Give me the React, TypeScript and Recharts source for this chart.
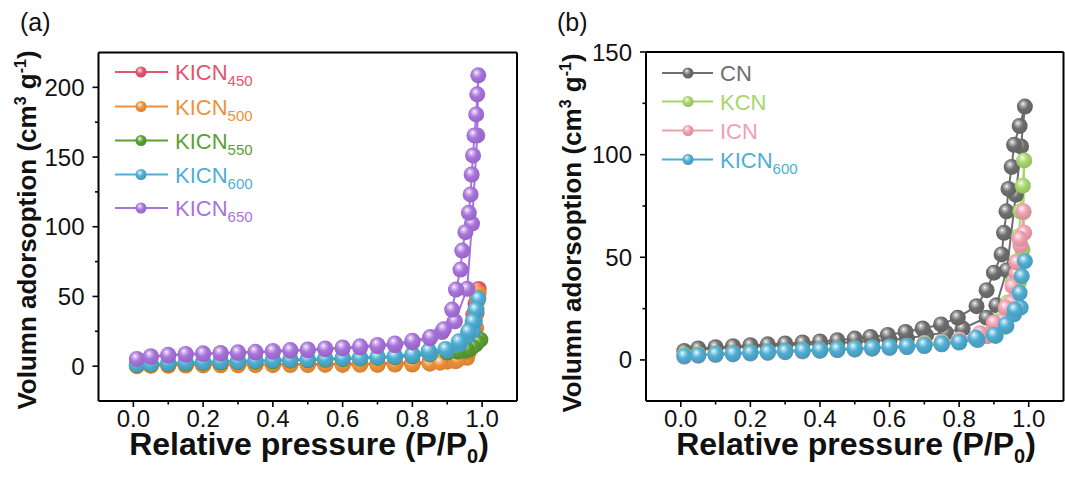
import React from 'react';
import { LineChart, Line, XAxis, YAxis } from 'recharts';

const FONT = '"Liberation Sans", Arial, Helvetica, sans-serif';

type Pt = [number, number];

// ---- panel (a): KICN series, adsorption then desorption branch ----
const kicn450Ads: Pt[] = [
  [0.01, 0.3], [0.05, 0.5], [0.1, 0.7], [0.15, 0.8], [0.2, 0.9], [0.25, 1.0], [0.3, 1.1],
  [0.35, 1.2], [0.4, 1.3], [0.45, 1.4], [0.5, 1.5], [0.55, 1.6], [0.6, 1.7], [0.65, 1.8],
  [0.7, 1.9], [0.75, 2.0], [0.8, 2.2], [0.85, 2.6], [0.9, 3.6], [0.95, 6.8], [0.97, 15],
  [0.978, 27], [0.984, 38], [0.99, 55.4],
];
const kicn450Des: Pt[] = [
  [0.986, 50], [0.981, 45], [0.975, 37], [0.967, 27], [0.955, 15], [0.93, 6], [0.9, 4.2],
  [0.85, 3.0], [0.8, 2.5], [0.75, 2.2], [0.7, 2.0],
];
const kicn500Ads: Pt[] = [
  [0.01, 0.0], [0.05, 0.2], [0.1, 0.3], [0.15, 0.4], [0.2, 0.5], [0.25, 0.6], [0.3, 0.6],
  [0.35, 0.7], [0.4, 0.7], [0.45, 0.8], [0.5, 0.8], [0.55, 0.9], [0.6, 0.9], [0.65, 1.0],
  [0.7, 1.0], [0.75, 1.1], [0.8, 1.2], [0.85, 1.8], [0.9, 3.2], [0.924, 3.5], [0.957, 6.0],
  [0.975, 15], [0.983, 27.4], [0.987, 47], [0.99, 52.5],
];
const kicn500Des: Pt[] = [
  [0.986, 50], [0.982, 38], [0.975, 25], [0.962, 10], [0.93, 4.5], [0.88, 2.5], [0.8, 1.6],
  [0.75, 1.3], [0.7, 1.2],
];
const kicn550Ads: Pt[] = [
  [0.01, 0.7], [0.05, 1.1], [0.1, 1.5], [0.15, 1.9], [0.2, 2.3], [0.25, 2.6], [0.3, 2.9],
  [0.35, 3.2], [0.4, 3.5], [0.45, 3.9], [0.5, 4.2], [0.55, 4.6], [0.6, 5.0], [0.65, 5.4],
  [0.7, 5.9], [0.75, 6.4], [0.8, 7.1], [0.85, 8.4], [0.9, 9.8], [0.93, 10.4], [0.95, 11.0],
  [0.962, 11.8], [0.981, 15.4], [0.995, 19],
];
const kicn550Des: Pt[] = [
  [0.986, 17], [0.972, 14], [0.955, 12.3], [0.93, 11.2], [0.9, 10.5], [0.85, 9.2], [0.8, 7.8],
];
const kicn600aAds: Pt[] = [
  [0.01, 1.1], [0.05, 1.6], [0.1, 2.1], [0.15, 2.5], [0.2, 2.9], [0.25, 3.2], [0.3, 3.5],
  [0.35, 3.8], [0.4, 4.1], [0.45, 4.5], [0.5, 4.8], [0.55, 5.2], [0.6, 5.6], [0.65, 6.0],
  [0.7, 6.5], [0.75, 7.0], [0.8, 7.8], [0.85, 9.0], [0.9, 11.0], [0.935, 15.5], [0.958, 21.5],
  [0.974, 25.5], [0.979, 32.5], [0.984, 40.5], [0.989, 48.5],
];
const kicn600aDes: Pt[] = [
  [0.981, 40.6], [0.973, 32.2], [0.96, 25], [0.933, 17.8], [0.895, 12.3], [0.847, 11.2],
  [0.8, 8.6], [0.75, 7.4], [0.7, 6.7], [0.65, 6.3], [0.6, 5.9], [0.55, 5.5], [0.5, 5.1],
  [0.45, 4.8], [0.4, 4.4], [0.35, 4.1], [0.3, 3.8], [0.25, 3.5], [0.2, 3.2], [0.15, 2.8], [0.1, 2.4],
];
const kicn650Ads: Pt[] = [
  [0.01, 5.2], [0.05, 6.6], [0.1, 7.5], [0.15, 8.2], [0.2, 8.7], [0.25, 9.0], [0.3, 9.4],
  [0.35, 9.8], [0.4, 10.3], [0.45, 10.9], [0.5, 11.4], [0.55, 12.1], [0.6, 12.7], [0.65, 13.4],
  [0.7, 14.2], [0.75, 15.0], [0.8, 17.0], [0.85, 20.0], [0.885, 24.5], [0.922, 32.2],
  [0.957, 55.5], [0.971, 102.3], [0.986, 165.5], [0.989, 208.6],
];
const kicn650Des: Pt[] = [
  [0.986, 195], [0.983, 180.6], [0.978, 165.5], [0.974, 151.2], [0.97, 137.5], [0.967, 123.2],
  [0.962, 110], [0.952, 96.1], [0.943, 82.9], [0.938, 69.3], [0.925, 54.9], [0.914, 40.6],
  [0.89, 26.5], [0.852, 21], [0.8, 18.3], [0.75, 16.3], [0.7, 15.2], [0.65, 14.2], [0.6, 13.4],
  [0.55, 12.7], [0.5, 12.0], [0.45, 11.5], [0.4, 10.9], [0.35, 10.3], [0.3, 9.9], [0.25, 9.5],
  [0.2, 9.2], [0.15, 8.8], [0.1, 8.1], [0.05, 7.1],
];

// ---- panel (b): CN, KCN, ICN, KICN600 ----
const cnAds: Pt[] = [
  [0.01, 4.4], [0.05, 5.0], [0.1, 5.6], [0.15, 6.0], [0.2, 6.4], [0.25, 6.8], [0.3, 7.1],
  [0.35, 7.5], [0.4, 7.9], [0.45, 8.3], [0.5, 8.7], [0.55, 9.2], [0.6, 9.8], [0.65, 10.4],
  [0.705, 12], [0.762, 13.3], [0.81, 15.3], [0.879, 20.6], [0.907, 26.6], [0.937, 43.7],
  [0.963, 80.5], [0.978, 104], [0.989, 123.4],
];
const cnDes: Pt[] = [
  [0.974, 114], [0.958, 104.8], [0.951, 94], [0.942, 83.3], [0.936, 72.4], [0.929, 61.9],
  [0.922, 51.4], [0.9, 42.5], [0.879, 34], [0.85, 26.2], [0.796, 20.6], [0.748, 17.3],
  [0.695, 15.3], [0.646, 13.6], [0.595, 12.2], [0.545, 11.2], [0.5, 10.4], [0.45, 9.6],
  [0.4, 9.0], [0.35, 8.5], [0.3, 8.0], [0.25, 7.6], [0.2, 7.2], [0.15, 6.7], [0.1, 6.2], [0.05, 5.6],
];
const kcnAds: Pt[] = [
  [0.01, 2.4], [0.05, 2.8], [0.1, 3.1], [0.15, 3.4], [0.2, 3.8], [0.25, 4.1], [0.3, 4.4],
  [0.35, 4.8], [0.4, 5.1], [0.45, 5.4], [0.5, 5.7], [0.55, 6.1], [0.6, 6.5], [0.65, 6.9],
  [0.7, 7.4], [0.75, 8.1], [0.8, 9.0], [0.85, 10.3], [0.9, 12.5], [0.93, 16], [0.955, 24],
  [0.972, 38], [0.982, 53.8], [0.985, 72], [0.987, 97.2],
];
const kcnDes: Pt[] = [
  [0.983, 84.9], [0.976, 72.4], [0.972, 60.3], [0.965, 48], [0.955, 38], [0.94, 28], [0.92, 20],
  [0.9, 15.5], [0.86, 12], [0.8, 10], [0.75, 8.9], [0.7, 8.2],
];
const icnAds: Pt[] = [
  [0.01, 1.5], [0.05, 2.0], [0.1, 2.4], [0.15, 2.7], [0.2, 3.1], [0.25, 3.4], [0.3, 3.7],
  [0.35, 4.1], [0.4, 4.4], [0.45, 4.7], [0.5, 5.0], [0.55, 5.4], [0.6, 5.8], [0.65, 6.2],
  [0.7, 6.8], [0.75, 7.6], [0.8, 8.6], [0.85, 10], [0.88, 11.5], [0.9, 13.5], [0.925, 19],
  [0.95, 28], [0.965, 42], [0.976, 56], [0.985, 72.4],
];
const icnDes: Pt[] = [
  [0.987, 61.9], [0.974, 59], [0.965, 47.6], [0.953, 36], [0.934, 25.5], [0.9, 18.2],
  [0.86, 13], [0.8, 10], [0.75, 8.6], [0.7, 7.6],
];
const kicn600bAds: Pt[] = [
  [0.01, 1.9], [0.05, 2.3], [0.1, 2.6], [0.15, 2.9], [0.2, 3.3], [0.25, 3.6], [0.3, 3.9],
  [0.35, 4.4], [0.4, 4.6], [0.45, 4.9], [0.5, 5.2], [0.55, 5.6], [0.6, 6.0], [0.65, 6.3],
  [0.7, 6.8], [0.75, 7.6], [0.8, 8.5], [0.853, 9.7], [0.905, 11.7], [0.936, 16.5],
  [0.958, 22.2], [0.977, 25.5], [0.989, 48.1],
];
const kicn600bDes: Pt[] = [
  [0.98, 40.8], [0.974, 32.7], [0.96, 24.5], [0.934, 17.3], [0.9, 12.2], [0.848, 10.9],
  [0.8, 8.9], [0.75, 8.0], [0.7, 7.3], [0.65, 6.8], [0.6, 6.4], [0.55, 6.0], [0.5, 5.6],
  [0.45, 5.3], [0.4, 5.0], [0.35, 4.7], [0.3, 4.3], [0.25, 4.0], [0.2, 3.6], [0.15, 3.2], [0.1, 2.9],
];

const xTicks = [0, 0.1, 0.2, 0.3, 0.4, 0.5, 0.6, 0.7, 0.8, 0.9, 1.0];
const yTicksA = [0, 25, 50, 75, 100, 125, 150, 175, 200];
const yTicksB = [0, 25, 50, 75, 100, 125, 150];

type Series = { id: string; name: string; sub?: string; color: string; ads: Pt[]; des: Pt[] };

const seriesA: Series[] = [
  { id: 'k450', name: 'KICN', sub: '450', color: '#e4546c', ads: kicn450Ads, des: kicn450Des },
  { id: 'k500', name: 'KICN', sub: '500', color: '#f0913a', ads: kicn500Ads, des: kicn500Des },
  { id: 'k550', name: 'KICN', sub: '550', color: '#5ca033', ads: kicn550Ads, des: kicn550Des },
  { id: 'k600a', name: 'KICN', sub: '600', color: '#4eaed4', ads: kicn600aAds, des: kicn600aDes },
  { id: 'k650', name: 'KICN', sub: '650', color: '#a873dc', ads: kicn650Ads, des: kicn650Des },
];

const seriesB: Series[] = [
  { id: 'cn', name: 'CN', color: '#6e6e6e', ads: cnAds, des: cnDes },
  { id: 'kcn', name: 'KCN', color: '#a6d66a', ads: kcnAds, des: kcnDes },
  { id: 'icn', name: 'ICN', color: '#f29fb0', ads: icnAds, des: icnDes },
  { id: 'k600b', name: 'KICN', sub: '600', color: '#4eaed4', ads: kicn600bAds, des: kicn600bDes },
];

function mix(hex: string, target: string, t: number) {
  const a = parseInt(hex.slice(1), 16);
  const b = parseInt(target.slice(1), 16);
  const ch = (v: number, s: number) => (v >> s) & 255;
  const m = (s: number) => Math.round(ch(a, s) + (ch(b, s) - ch(a, s)) * t);
  return `rgb(${m(16)},${m(8)},${m(0)})`;
}

function BallDefs({ list }: { list: Series[] }) {
  return (
    <>
      {list.map((s) => (
        <radialGradient key={s.id} id={`ball-${s.id}`} cx="0.42" cy="0.4" r="0.62" fx="0.38" fy="0.32">
          <stop offset="0" stopColor="#ffffff" />
          <stop offset="0.16" stopColor={mix(s.color, '#ffffff', 0.55)} />
          <stop offset="0.5" stopColor={s.color} />
          <stop offset="1" stopColor={mix(s.color, '#000000', 0.12)} />
        </radialGradient>
      ))}
    </>
  );
}

// tick size/margin are 0 so x,y given to the tick renderer sit on the axis line
const XTick = (props: any) => {
  const { x, y, payload } = props;
  const v = payload.value as number;
  const major = Math.round(v * 10) % 2 === 0;
  return (
    <g>
      <line x1={x} x2={x} y1={y} y2={y + (major ? 6 : 3.5)} stroke="#000" strokeWidth={1.6} />
      {major && (
        <text x={x} y={y + 26} textAnchor="middle" fontSize={24} fontFamily={FONT} fill="#111">
          {v.toFixed(1)}
        </text>
      )}
    </g>
  );
};

const YTick = (props: any) => {
  const { x, y, payload } = props;
  const v = payload.value as number;
  const major = v % 50 === 0;
  return (
    <g>
      <line x1={x} x2={x - (major ? 6 : 3.5)} y1={y} y2={y} stroke="#000" strokeWidth={1.6} />
      {major && (
        <text x={x - 14} y={y + 8.5} textAnchor="end" fontSize={24} fontFamily={FONT} fill="#111">
          {v}
        </text>
      )}
    </g>
  );
};

const AXIS_H = 40;
const AXIS_W = 60;

function Panel({ list, yDomain, yTicks, width, plot }: {
  list: Series[]; yDomain: [number, number]; yTicks: number[]; width: number;
  plot: { top: number; right: number; bottom: number; left: number };
}) {
  const margin = {
    top: plot.top - 1,
    right: width - plot.right - 1,
    bottom: 484 - plot.bottom - AXIS_H,
    left: plot.left - AXIS_W,
  };
  return (
    <LineChart width={width} height={484} margin={margin}>
      <XAxis
        type="number" dataKey="x" domain={[-0.1, 1.1]} allowDataOverflow ticks={xTicks} interval={0}
        tickSize={0} tickMargin={0} tickLine={false} height={AXIS_H} tick={(p: any) => <XTick {...p} />}
        axisLine={{ stroke: '#000', strokeWidth: 2 }}
      />
      <XAxis xAxisId="top" orientation="top" type="number" domain={[-0.1, 1.1]} height={1}
        tick={false} tickLine={false} axisLine={{ stroke: '#000', strokeWidth: 2 }} />
      <YAxis
        type="number" domain={yDomain} allowDataOverflow ticks={yTicks} interval={0}
        tickSize={0} tickMargin={0} tickLine={false} width={AXIS_W} tick={(p: any) => <YTick {...p} />}
        axisLine={{ stroke: '#000', strokeWidth: 2 }}
      />
      <YAxis yAxisId="right" orientation="right" type="number" domain={yDomain} width={1}
        tick={false} tickLine={false} axisLine={{ stroke: '#000', strokeWidth: 2 }} />
      {list.map((s) => (
        <Line
          key={s.id}
          data={[...s.ads, ...s.des].map(([x, y]) => ({ x, y }))}
          dataKey="y"
          type="linear"
          stroke={s.color}
          strokeWidth={2}
          isAnimationActive={false}
          activeDot={false}
          dot={(p: any) => (
            <circle key={`${s.id}-${p.index}`} cx={p.cx} cy={p.cy} r={8} fill={`url(#ball-${s.id})`} />
          )}
        />
      ))}
    </LineChart>
  );
}

function LegendBox({ list, x0, x1, xb, xt, ys }: {
  list: Series[]; x0: number; x1: number; xb: number; xt: number; ys: number[];
}) {
  return (
    <g>
      {list.map((s, i) => (
        <g key={s.id}>
          <line x1={x0} x2={x1} y1={ys[i]} y2={ys[i]} stroke={s.color} strokeWidth={2.2} />
          <circle cx={xb} cy={ys[i]} r={5.5} fill={`url(#ball-${s.id})`} />
          <text x={xt} y={ys[i] + 8} fontSize={22} fontFamily={FONT} fill={s.color}>
            {s.name}
            {s.sub && <tspan dy={6} fontSize={15}>{s.sub}</tspan>}
          </text>
        </g>
      ))}
    </g>
  );
}

function YTitle({ x, y }: { x: number; y: number }) {
  return (
    <text transform={`translate(${x},${y}) rotate(-90)`} textAnchor="middle" fontSize={26}
      fontWeight="bold" fontFamily={FONT} fill="#111">
      Volumn adorsoption (cm<tspan dy={-10} fontSize={16}>3</tspan>
      <tspan dy={10}> g</tspan><tspan dy={-10} fontSize={16}>-1</tspan><tspan dy={10}>)</tspan>
    </text>
  );
}

function XTitle({ x }: { x: number }) {
  return (
    <text x={x} y={455} textAnchor="middle" fontSize={32} fontWeight="bold" fontFamily={FONT} fill="#111">
      Relative pressure (P/P<tspan dy={8} fontSize={20}>0</tspan><tspan dy={-8}>)</tspan>
    </text>
  );
}

export default function App() {
  return (
    <div style={{ position: 'absolute', left: 0, top: 0, width: 1065, height: 484, background: '#fff', overflow: 'hidden' }}>
      <svg width={0} height={0} style={{ position: 'absolute' }}>
        <defs>
          <BallDefs list={[...seriesA, ...seriesB]} />
        </defs>
      </svg>
      <div style={{ position: 'absolute', left: 0, top: 0 }}>
        <Panel list={seriesA} yDomain={[-25, 225]} yTicks={yTicksA} width={530}
          plot={{ top: 52.5, right: 517, bottom: 401, left: 98.5 }} />
      </div>
      <div style={{ position: 'absolute', left: 530, top: 0 }}>
        <Panel list={seriesB} yDomain={[-20, 150]} yTicks={yTicksB} width={535}
          plot={{ top: 52, right: 533.5, bottom: 401, left: 116 }} />
      </div>
      <svg width={1065} height={484} style={{ position: 'absolute', left: 0, top: 0, pointerEvents: 'none' }}>
        <text x={20} y={31} fontSize={25} fontFamily={FONT} fill="#111">(a)</text>
        <text x={557} y={31} fontSize={25} fontFamily={FONT} fill="#111">(b)</text>
        <YTitle x={36} y={230} />
        <YTitle x={581} y={233} />
        <XTitle x={309} />
        <XTitle x={856} />
        <LegendBox list={seriesA} x0={115} x1={168} xb={141} xt={175} ys={[72, 106.5, 140.5, 174.5, 208]} />
        <LegendBox list={seriesB} x0={662} x1={713} xb={688} xt={720} ys={[73, 101.5, 130.5, 159.5]} />
      </svg>
    </div>
  );
}
